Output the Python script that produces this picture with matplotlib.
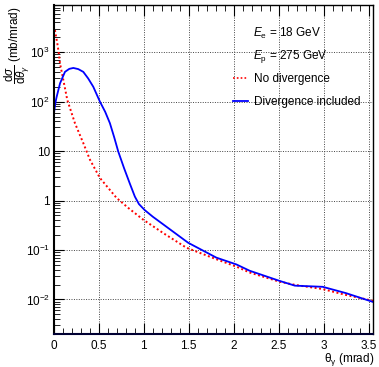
import matplotlib
matplotlib.use('Agg')
import matplotlib.pyplot as plt
from matplotlib.lines import Line2D
from matplotlib.ticker import FixedLocator, LogLocator, MultipleLocator, NullFormatter

plt.rcParams['font.family'] = ['Liberation Sans', 'DejaVu Sans']
plt.rcParams['mathtext.fontset'] = 'custom'
plt.rcParams['mathtext.rm'] = 'Liberation Sans'
plt.rcParams['mathtext.it'] = 'Liberation Sans:italic'
plt.rcParams['mathtext.bf'] = 'Liberation Sans:bold'

# No divergence (red dotted)
theta_nodiv = [0.01, 0.037, 0.05, 0.067, 0.104, 0.148, 0.233, 0.326, 0.4, 0.511, 0.696, 0.826,
               0.993, 1.215, 1.474, 1.807, 2.03, 2.178, 2.51, 2.696, 2.99, 3.25, 3.55]
xs_nodiv = [2800, 1500, 1050, 590, 273, 108, 36.7, 14.5, 6.7, 2.86, 1.13, 0.71,
            0.41, 0.22, 0.111, 0.065, 0.046, 0.035, 0.0228, 0.0195, 0.0162, 0.0123, 0.0094]

# Divergence included (blue solid)
theta_div = [0.0, 0.01, 0.02, 0.03, 0.067, 0.122, 0.17, 0.215, 0.27, 0.326, 0.38, 0.437,
             0.511, 0.57, 0.622, 0.67, 0.715, 0.78, 0.844, 0.9, 0.945,
             1.01, 1.1, 1.215, 1.493, 1.807, 2.03, 2.178, 2.511, 2.68, 2.99, 3.25, 3.55]
xs_div = [59, 80, 104, 126, 234, 400, 460, 480, 455, 400, 295, 200,
          100, 62, 36.7, 19, 9.8, 4.5, 2.2, 1.2, 0.85,
          0.64, 0.47, 0.33, 0.14, 0.070, 0.051, 0.038, 0.0237, 0.0190, 0.0180, 0.0134, 0.0089]

ytick_vals = [1e-2, 1e-1, 1, 10, 1e2, 1e3]
ytick_labels = ['$10^{-2}$', '$10^{-1}$', '1', '10', '$10^{2}$', '$10^{3}$']

W, H = 379, 367
fig = plt.figure(figsize=(W / 100, H / 100), dpi=100)
ax = fig.add_axes([54 / W, 1 - 334 / H, (373 - 54) / W, (334 - 5) / H])

ax.plot(theta_nodiv, xs_nodiv, color='#ff0000', lw=1.4, linestyle=(0, (1, 1.3)))
ax.plot(theta_div, xs_div, color='#0000ff', lw=1.3)

ax.set_yscale('log')
ax.set_xlim(0, 3.55)
ax.set_ylim(2e-3, 9e3)

ax.xaxis.set_minor_locator(MultipleLocator(0.1))
ax.set_xticks([0, 0.5, 1, 1.5, 2, 2.5, 3, 3.5])
ax.set_xticklabels(['0', '0.5', '1', '1.5', '2', '2.5', '3', '3.5'])
ax.yaxis.set_major_locator(FixedLocator(ytick_vals))
ax.set_yticklabels(ytick_labels)
ax.yaxis.set_minor_locator(LogLocator(base=10, subs=range(2, 10), numticks=20))
ax.yaxis.set_minor_formatter(NullFormatter())

ax.tick_params(axis='both', which='both', direction='in', labelsize=8.5, colors='black')
ax.tick_params(axis='x', which='major', length=8, top=True, pad=4)
ax.tick_params(axis='x', which='minor', length=4, top=True)
ax.tick_params(axis='y', which='major', length=7, right=False, pad=3)
ax.tick_params(axis='y', which='minor', length=4, right=False)

ax.grid(True, which='major', color='#444444', linestyle=(0, (1, 1.5)), lw=0.7)

for s in ax.spines.values():
    s.set_linewidth(1.0)
ax.spines['left'].set_linewidth(1.5)
ax.spines['bottom'].set_linewidth(1.5)
ax.spines['bottom'].set_color('#000033')

ax.set_ylabel(r'$\dfrac{\mathrm{d}\sigma}{\mathrm{d}\theta_{\gamma}}$ (mb/mrad)', fontsize=8.5, loc='top')
ax.yaxis.set_label_coords(-0.07, 0.995)
ax.set_xlabel(r'θ$_{\mathrm{\gamma}}$ (mrad)', fontsize=8.5, loc='right')
ax.xaxis.set_label_coords(1.004, -0.052)

# beam energies
fig.text(253 / W, 1 - 33 / H, r'$E_{\mathrm{e}}$ = 18 GeV', fontsize=8.5, va='center', ha='left')
fig.text(253 / W, 1 - 57 / H, r'$E_{\mathrm{p}}$ = 275 GeV', fontsize=8.5, va='center', ha='left')

handles = [
    Line2D([], [], color='#ff0000', lw=1.2, linestyle=(0, (1, 1.3))),
    Line2D([], [], color='#0000ff', lw=1.3),
]
labels = ['No divergence', 'Divergence included']
fig.legend(handles, labels, loc='upper left', bbox_to_anchor=(233 / W, 1 - 73 / H),
           frameon=False, fontsize=8.5, handlelength=1.3, handletextpad=0.45,
           labelspacing=0.95, borderpad=0, borderaxespad=0)

fig.savefig('out.png', dpi=100)
